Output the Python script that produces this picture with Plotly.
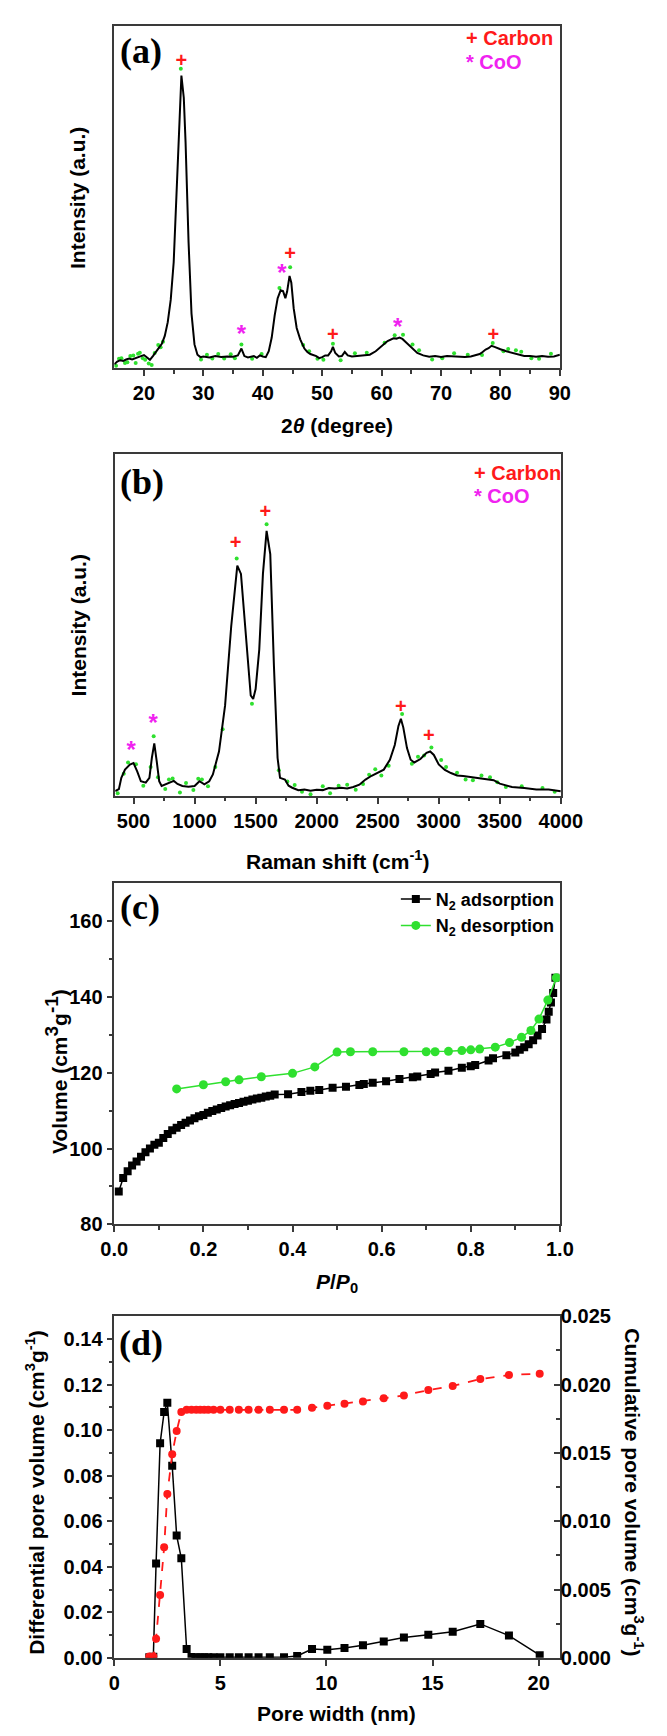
import plotly.graph_objects as go

W, H = 667, 1736

# ---------------- (a) XRD ----------------
xrd_2theta = [15, 15.5, 16, 16.5, 17, 17.5, 18, 18.5, 19, 19.5, 20, 20.5, 21, 21.5, 22, 22.5, 23, 23.5,
              24, 24.5, 25, 25.5, 26, 26.3, 26.7, 27, 27.5, 28, 28.5, 29, 29.5, 30, 31, 32, 33, 34, 35,
              35.8, 36.4, 36.9, 37.5, 38, 38.5, 39, 39.5, 40, 40.5, 41, 41.5, 42, 42.5, 43, 43.4, 43.8,
              44.1, 44.5, 44.8, 45.2, 45.7, 46.3, 47, 47.5, 48, 49, 49.5, 50, 50.5, 51, 51.5, 51.8, 52.2,
              52.8, 53.3, 53.8, 54.3, 55, 56, 57, 58, 59, 60, 61, 62, 62.5, 63, 63.5, 64, 65, 66, 67, 68,
              69, 70, 71, 72, 73, 74, 75, 76, 76.5, 77, 77.5, 78, 78.5, 79, 79.5, 80, 81, 82, 83, 84, 85,
              86, 87, 88, 89, 90]
xrd_intensity = [1.2, 2.0, 2.4, 2.2, 2.6, 2.9, 2.6, 3.0, 3.3, 3.6, 3.9, 3.2, 2.5, 3.6, 5.0, 6.0, 7.2, 9.5,
                 13.5, 20.0, 31.0, 51.0, 76.0, 85.5, 79.0, 66.0, 37.0, 16.0, 7.0, 4.0, 3.3, 3.5, 3.2, 3.6,
                 3.3, 3.5, 3.4, 3.8, 5.8, 3.6, 3.2, 3.4, 3.6, 3.1, 3.8, 3.5, 3.3, 5.0, 9.0, 15.5, 20.5,
                 22.8, 22.6, 20.5, 22.5, 27.0, 25.0, 17.5, 11.8, 8.5, 5.8, 4.8, 4.2, 3.6, 3.0, 3.3, 3.8,
                 3.8, 5.0, 6.3, 4.5, 3.5, 3.6, 4.8, 3.8, 3.5, 3.6, 3.8, 4.0, 5.0, 6.6, 8.0, 8.8, 8.7, 9.0,
                 8.6, 7.8, 6.0, 4.5, 3.8, 3.4, 3.6, 3.3, 3.6, 3.5, 3.6, 3.3, 3.5, 4.0, 4.2, 4.8, 5.5, 5.9,
                 6.6, 6.3, 5.9, 5.6, 5.0, 4.5, 4.2, 3.6, 3.6, 3.4, 3.6, 3.4, 3.5, 4.0]
xrd_raw_x = [15.3, 15.8, 16.2, 16.8, 17.2, 17.7, 18.2, 18.6, 19.0, 19.3, 19.8, 20.2, 20.8, 21.3, 21.8,
             22.4, 22.8, 23.2, 26.2, 29.6, 30.6, 31.5, 32.5, 33.5, 34.6, 35.3, 36.4, 38.2, 39.8, 42.8,
             44.6, 46.8, 47.8, 49.2, 50.2, 51.8, 53.1, 55.5, 57.5, 60.5, 62.2, 63.6, 65.2, 66.3, 68.5,
             70.2, 72.2, 74.5, 76.9, 78.7, 80.5, 81.3, 82.6, 83.5, 85.2, 86.5, 88.5]
xrd_raw_y = [0.8, 2.8, 3.0, 1.6, 1.8, 3.6, 3.8, 1.6, 4.3, 4.6, 3.0, 2.5, 1.4, 1.0, 4.5, 6.8, 6.2, 7.8,
             87.5, 2.6, 4.0, 2.9, 4.2, 2.9, 4.1, 3.0, 7.0, 2.8, 4.2, 23.5, 29.5, 6.8, 5.0, 2.8, 2.5,
             7.2, 2.4, 4.4, 4.6, 7.5, 9.7, 9.8, 7.0, 5.3, 2.6, 3.0, 4.4, 4.0, 3.9, 7.4, 5.0, 5.7, 5.3,
             4.9, 3.0, 2.8, 4.3]
xrd_carbon_x = [26.3, 44.6, 51.8, 78.8]
xrd_carbon_y = [89.4, 33.0, 9.4, 9.6]
xrd_coo_x = [36.4, 43.2, 62.7]
xrd_coo_y = [9.6, 27.2, 11.4]

# ---------------- (b) Raman ----------------
raman_shift = [350, 380, 400, 430, 470, 500, 530, 560, 600, 630, 650, 670, 690, 710, 730, 760, 800, 830,
               860, 900, 950, 1000, 1040, 1080, 1120, 1150, 1200, 1250, 1300, 1350, 1380, 1420, 1460,
               1480, 1500, 1530, 1560, 1590, 1620, 1650, 1680, 1700, 1740, 1770, 1800, 1850, 1900, 1950,
               2000, 2050, 2100, 2150, 2200, 2250, 2300, 2350, 2400, 2450, 2500, 2550, 2600, 2640, 2670,
               2690, 2710, 2740, 2770, 2800, 2850, 2900, 2930, 2960, 3000, 3050, 3100, 3150, 3200, 3250,
               3300, 3350, 3400, 3450, 3500, 3550, 3600, 3700, 3800, 3900, 4000]
raman_intensity = [1.4, 2.0, 5.3, 7.7, 9.2, 9.6, 7.2, 4.3, 3.9, 5.3, 11.1, 15.4, 10.1, 4.3, 2.9, 3.4, 3.9,
                   4.4, 3.5, 2.9, 2.7, 2.9, 4.3, 3.4, 4.3, 6.3, 13.0, 26.5, 49.6, 67.4, 65.0, 47.7, 29.4,
                   28.4, 31.3, 42.9, 65.0, 77.6, 70.8, 38.1, 11.1, 5.3, 4.8, 3.0, 2.4, 1.7, 1.9, 1.5, 1.8,
                   1.7, 2.3, 2.2, 2.4, 2.2, 2.6, 3.3, 4.8, 5.9, 6.7, 7.7, 10.6, 14.9, 20.5, 22.6, 20.0,
                   14.0, 10.6, 9.8, 10.8, 12.6, 13.0, 12.0, 9.2, 7.6, 6.7, 6.0, 5.8, 5.6, 5.3, 5.0, 4.8,
                   4.6, 3.6, 3.2, 2.6, 2.3, 1.9, 1.9, 1.4]
raman_raw_x = [370, 420, 455, 520, 580, 640, 665, 700, 760, 790, 820, 880, 930, 990, 1030, 1060, 1110,
               1170, 1230, 1345, 1470, 1590, 1690, 1760, 1820, 1880, 1950, 2050, 2110, 2180, 2250, 2320,
               2380, 2430, 2480, 2530, 2590, 2700, 2780, 2830, 2880, 2940, 3020, 3060, 3150, 3220, 3280,
               3350, 3420, 3480, 3550, 3680, 3850, 3950]
raman_raw_y = [0.8, 6.5, 9.8, 9.3, 3.0, 8.5, 17.5, 5.5, 2.0, 4.8, 5.1, 1.0, 3.8, 1.7, 5.0, 4.8, 2.8,
               8.5, 19.5, 69.5, 27.0, 79.5, 7.5, 4.2, 3.2, 1.2, 0.5, 2.8, 0.8, 3.0, 3.3, 1.8, 3.5, 6.2,
               7.8, 6.0, 8.8, 24.0, 9.4, 11.5, 11.8, 14.2, 10.5, 8.5, 6.8, 4.8, 4.6, 6.0, 5.5, 4.0, 2.6,
               2.8, 2.3, 1.2]
raman_carbon_x = [1335, 1580, 2690, 2920]
raman_carbon_y = [73.7, 82.7, 25.7, 17.1]
raman_coo_x = [480, 660]
raman_coo_y = [12.8, 20.8]

# ---------------- (c) N2 isotherm ----------------
ads_p = [0.01, 0.02, 0.03, 0.04, 0.05, 0.06, 0.07, 0.08, 0.09, 0.10, 0.11, 0.12, 0.13, 0.14, 0.15, 0.16,
         0.17, 0.18, 0.19, 0.20, 0.21, 0.22, 0.23, 0.24, 0.25, 0.26, 0.27, 0.28, 0.29, 0.30, 0.31, 0.32,
         0.33, 0.34, 0.35, 0.36, 0.39, 0.42, 0.44, 0.46, 0.49, 0.52, 0.55, 0.56, 0.58, 0.61, 0.64, 0.67,
         0.68, 0.71, 0.72, 0.75, 0.78, 0.80, 0.81, 0.84, 0.85, 0.88, 0.90, 0.91, 0.92, 0.93, 0.94, 0.95,
         0.96, 0.97, 0.975, 0.98, 0.985, 0.99]
ads_v = [88.7, 92.2, 94.0, 95.5, 96.6, 97.8, 99.0, 100.0, 101.0, 101.5, 102.8, 103.8, 104.8, 105.5, 106.2,
         106.8, 107.4, 108.0, 108.5, 108.8, 109.4, 109.9, 110.3, 110.7, 111.1, 111.4, 111.7, 112.0, 112.3,
         112.6, 112.9, 113.2, 113.4, 113.7, 113.9, 114.2, 114.3, 114.9, 115.2, 115.4, 116.0, 116.3, 116.7,
         117.0, 117.3, 117.7, 118.3, 118.8, 119.0, 119.6, 120.0, 120.5, 121.3, 121.7, 122.0, 123.2, 123.8,
         124.6, 125.3, 126.0, 126.7, 127.5, 128.5, 129.8, 131.5, 134.0, 136.0, 138.5, 141.0, 145.0]
des_p = [0.14, 0.20, 0.25, 0.28, 0.33, 0.40, 0.45, 0.50, 0.53, 0.58, 0.65, 0.70, 0.72, 0.75, 0.78, 0.80,
         0.82, 0.855, 0.887, 0.914, 0.935, 0.953, 0.973, 0.992]
des_v = [115.7, 116.8, 117.6, 118.1, 118.9, 119.8, 121.5, 125.4, 125.5, 125.5, 125.5, 125.5, 125.5, 125.6,
         125.8, 126.0, 126.2, 126.7, 127.9, 129.3, 131.1, 134.1, 139.1, 145.0]

# ---------------- (d) pore size distribution ----------------
pore_w = [1.65, 1.84, 1.97, 2.16, 2.35, 2.50, 2.73, 2.94, 3.16, 3.41, 3.64, 3.86, 4.05, 4.24, 4.43, 4.68,
          5.0, 5.44, 5.87, 6.33, 6.8, 7.33, 8.0, 8.62, 9.32, 10.04, 10.85, 11.72, 12.7, 13.65, 14.8, 15.95,
          17.25, 18.6, 20.05]
diff_pv = [0.0003, 0.0005, 0.0414, 0.0942, 0.108, 0.112, 0.0844, 0.0537, 0.0437, 0.0039, 0.0004, 0.0003,
           0.0003, 0.0003, 0.0003, 0.0003, 0.0003, 0.0003, 0.0003, 0.0003, 0.0003, 0.0003, 0.0003, 0.0008,
           0.0039, 0.0036, 0.0043, 0.0055, 0.0072, 0.0089, 0.0101, 0.0115, 0.0149, 0.0098, 0.0012]
cum_pv = [0.0001, 0.0001, 0.0014, 0.0046, 0.0081, 0.0120, 0.0149, 0.0166, 0.0180, 0.01815, 0.01815,
          0.01815, 0.01815, 0.01815, 0.01815, 0.01815, 0.01815, 0.01815, 0.01815, 0.01815, 0.01815,
          0.01815, 0.01815, 0.01815, 0.0183, 0.01845, 0.0186, 0.01876, 0.0190, 0.0192, 0.0196, 0.0199,
          0.0204, 0.0207, 0.0208]

# ---------------- layout helpers ----------------
def fx(px):
    return px / W


def fy(py):
    return 1 - py / H


FONT = "Liberation Sans, Arial, sans-serif"
SERIF = "Liberation Serif, Times New Roman, serif"
FRAME = "#3a3a3a"
RED = "#ff1a1a"
MAG = "#f022f0"
GREEN = "#2fe02f"

panels = {
    "a": dict(x=(106, 577), y=(15, 362)),
    "b": dict(x=(107, 578), y=(449, 795)),
    "c": dict(x=(106, 577), y=(883, 1229)),
    "d": dict(x=(106, 577), y=(1322, 1668)),
}


def dom(p):
    x0, x1 = panels[p]["x"]
    y0, y1 = panels[p]["y"]
    return [fx(x0), fx(x1)], [fy(y1), fy(y0)]


fig = go.Figure()

# (a)
fig.add_trace(go.Scatter(x=xrd_raw_x, y=xrd_raw_y, mode="markers", xaxis="x", yaxis="y",
                         marker=dict(color=GREEN, size=4), showlegend=False))
fig.add_trace(go.Scatter(x=xrd_2theta, y=xrd_intensity, mode="lines", xaxis="x", yaxis="y",
                         line=dict(color="black", width=2), showlegend=False))
fig.add_trace(go.Scatter(x=xrd_carbon_x, y=xrd_carbon_y, mode="text", text=["+"] * len(xrd_carbon_x),
                         xaxis="x", yaxis="y", textfont=dict(color=RED, size=20, family=FONT, weight="bold"),
                         showlegend=False))
fig.add_trace(go.Scatter(x=xrd_coo_x, y=xrd_coo_y, mode="text", text=["*"] * len(xrd_coo_x),
                         xaxis="x", yaxis="y", textfont=dict(color=MAG, size=24, family=FONT, weight="bold"),
                         showlegend=False))

# (b)
fig.add_trace(go.Scatter(x=raman_raw_x, y=raman_raw_y, mode="markers", xaxis="x2", yaxis="y2",
                         marker=dict(color=GREEN, size=4), showlegend=False))
fig.add_trace(go.Scatter(x=raman_shift, y=raman_intensity, mode="lines", xaxis="x2", yaxis="y2",
                         line=dict(color="black", width=2), showlegend=False))
fig.add_trace(go.Scatter(x=raman_carbon_x, y=raman_carbon_y, mode="text", text=["+"] * len(raman_carbon_x),
                         xaxis="x2", yaxis="y2", textfont=dict(color=RED, size=20, family=FONT, weight="bold"),
                         showlegend=False))
fig.add_trace(go.Scatter(x=raman_coo_x, y=raman_coo_y, mode="text", text=["*"] * len(raman_coo_x),
                         xaxis="x2", yaxis="y2", textfont=dict(color=MAG, size=24, family=FONT, weight="bold"),
                         showlegend=False))

# (c)
fig.add_trace(go.Scatter(x=ads_p, y=ads_v, mode="lines+markers", xaxis="x3", yaxis="y3",
                         name="N<sub>2</sub> adsorption",
                         line=dict(color="black", width=1.5),
                         marker=dict(symbol="square", color="black", size=8)))
fig.add_trace(go.Scatter(x=des_p, y=des_v, mode="lines+markers", xaxis="x3", yaxis="y3",
                         name="N<sub>2</sub> desorption",
                         line=dict(color=GREEN, width=1.5),
                         marker=dict(symbol="circle", color=GREEN, size=9)))

# (d)
fig.add_trace(go.Scatter(x=pore_w, y=diff_pv, mode="lines+markers", xaxis="x4", yaxis="y4",
                         line=dict(color="black", width=1.5),
                         marker=dict(symbol="square", color="black", size=8), showlegend=False))
fig.add_trace(go.Scatter(x=pore_w, y=cum_pv, mode="lines+markers", xaxis="x4", yaxis="y5",
                         line=dict(color=RED, width=1.8, dash="dash"),
                         marker=dict(symbol="circle", color=RED, size=8), showlegend=False))

tickfont = dict(family=FONT, size=20, color="black", weight="bold")


def axis_common(**kw):
    d = dict(showline=True, linecolor=FRAME, linewidth=1.5, mirror=True, showgrid=False,
             zeroline=False, tickfont=tickfont, ticks="outside", ticklen=6, tickwidth=1.5,
             tickcolor=FRAME)
    d.update(kw)
    return d


minor_out = dict(ticks="outside", ticklen=3.5, tickwidth=1.5, tickcolor=FRAME)

xa, ya = dom("a")
xb, yb = dom("b")
xc, yc = dom("c")
xd, yd = dom("d")

layout = dict(
    width=W, height=H, autosize=False,
    margin=dict(l=0, r=0, t=0, b=0),
    paper_bgcolor="white", plot_bgcolor="white",
    xaxis=axis_common(domain=xa, anchor="y", range=[15, 90], tickvals=[20, 30, 40, 50, 60, 70, 80, 90],
                      minor=dict(tickvals=[25, 35, 45, 55, 65, 75, 85], **minor_out)),
    yaxis=axis_common(domain=ya, anchor="x", range=[0, 100], showticklabels=False, ticks=""),
    xaxis2=axis_common(domain=xb, anchor="y2", range=[350, 4000],
                       tickvals=[500, 1000, 1500, 2000, 2500, 3000, 3500, 4000],
                       minor=dict(tickvals=[750, 1250, 1750, 2250, 2750, 3250, 3750], **minor_out)),
    yaxis2=axis_common(domain=yb, anchor="x2", range=[0, 100], showticklabels=False, ticks=""),
    xaxis3=axis_common(domain=xc, anchor="y3", range=[0, 1], tickvals=[0, 0.2, 0.4, 0.6, 0.8, 1.0],
                       tickformat=".1f",
                       minor=dict(tickvals=[0.1, 0.3, 0.5, 0.7, 0.9], **minor_out)),
    yaxis3=axis_common(domain=yc, anchor="x3", range=[80, 170], tickvals=[80, 100, 120, 140, 160],
                       minor=dict(tickvals=[90, 110, 130, 150], **minor_out)),
    xaxis4=axis_common(domain=xd, anchor="y4", range=[0, 21], tickvals=[0, 5, 10, 15, 20]),
    yaxis4=axis_common(domain=yd, anchor="x4", range=[0, 0.15],
                       tickvals=[0, 0.02, 0.04, 0.06, 0.08, 0.10, 0.12, 0.14], tickformat=".2f",
                       minor=dict(tickvals=[0.01, 0.03, 0.05, 0.07, 0.09, 0.11, 0.13], **minor_out)),
    yaxis5=dict(domain=yd, anchor="x4", overlaying="y4", side="right", range=[0, 0.025],
                tickvals=[0, 0.005, 0.01, 0.015, 0.02, 0.025], tickformat=".3f",
                showline=False, showgrid=False, zeroline=False, tickfont=tickfont,
                ticks="inside", ticklen=6, tickwidth=1.5, tickcolor=FRAME,
                minor=dict(tickvals=[0.0025, 0.0075, 0.0125, 0.0175, 0.0225], ticks="inside",
                           ticklen=3.5, tickwidth=1.5, tickcolor=FRAME)),
    legend=dict(x=fx(577), xanchor="right", y=fy(881), yanchor="top", bgcolor="rgba(0,0,0,0)",
                font=dict(family=FONT, size=18, color="black", weight="bold"),
                itemwidth=30, tracegroupgap=0),
)
fig.update_layout(**layout)

ann = []
title_font = dict(family=FONT, size=21, color="black", weight="bold")


def text_at(px, py, text, font, angle=0, xanchor="center", yanchor="middle"):
    ann.append(dict(x=fx(px), y=fy(py), xref="paper", yref="paper", text=text, showarrow=False,
                    font=font, textangle=angle, xanchor=xanchor, yanchor=yanchor))


label_font = dict(family=SERIF, size=36, color="black", weight="bold")
text_at(110, 41, "(a)", label_font, xanchor="left")
text_at(110, 477, "(b)", label_font, xanchor="left")
text_at(110, 908, "(c)", label_font, xanchor="left")
text_at(109, 1349, "(d)", label_font, xanchor="left")

leg_red = dict(family=FONT, size=20, color=RED, weight="bold")
leg_mag = dict(family=FONT, size=20, color=MAG, weight="bold")
text_at(476, 27, "+ Carbon", leg_red, xanchor="left")
text_at(476, 52, "* CoO", leg_mag, xanchor="left")
text_at(484, 468, "+ Carbon", leg_red, xanchor="left")
text_at(484, 491, "* CoO", leg_mag, xanchor="left")

big_sup = '<sup><span style="font-size:19px">{}</span></sup>'
text_at(341, 420, "2<i>θ</i> (degree)", title_font)
text_at(67, 189, "Intensity (a.u.)", title_font, angle=-90)
text_at(342, 860, "Raman shift (cm<sup>-1</sup>)", title_font)
text_at(68, 622, "Intensity (a.u.)", title_font, angle=-90)
text_at(341, 1288, "<i>P</i>/<i>P</i><sub>0</sub>", title_font)
text_at(45, 1074, "Volume (cm" + big_sup.format("3") + "g" + big_sup.format("-1") + ")", title_font,
        angle=-90)
text_at(341, 1724, "Pore width (nm)", title_font)
text_at(22, 1500, "Differential pore volume (cm<sup>3</sup>g<sup>-1</sup>)", title_font, angle=-90)
text_at(655, 1500, "Cumulative pore volume (cm<sup>3</sup>g<sup>-1</sup>)", title_font, angle=90)

fig.update_layout(annotations=ann)

fig.write_html("out.html", config={"displayModeBar": False},
               post_script="document.body.style.margin='0px';")
